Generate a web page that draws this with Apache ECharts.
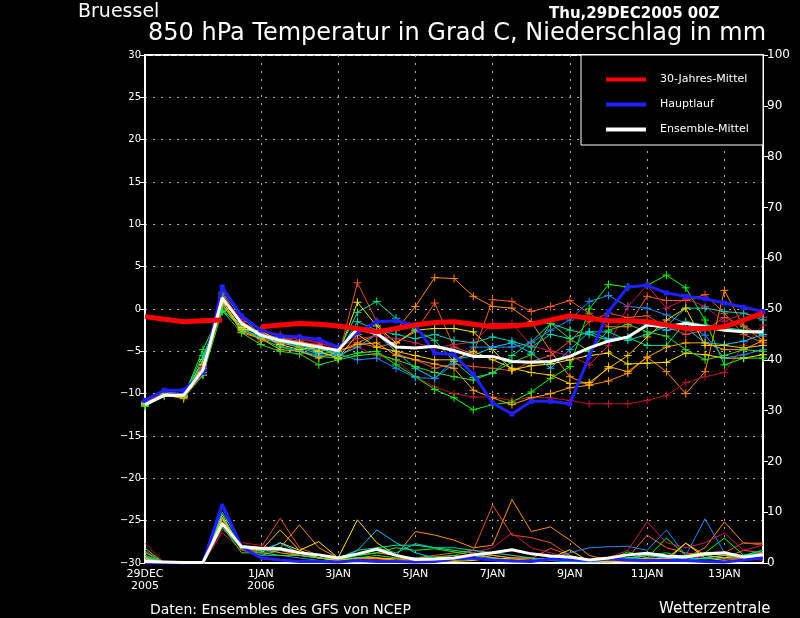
<!DOCTYPE html>
<html>
<head>
<meta charset="utf-8">
<script src="https://cdn.jsdelivr.net/npm/echarts@6/dist/echarts.min.js"></script>
<style>
  html, body { margin: 0; padding: 0; background: #000; }
  #chart { width: 800px; height: 618px; }
</style>
</head>
<body>
<div id="chart"></div>
<script>
// Zeitachse: 0..384 h in 12h-Schritten ab 29DEC2005 00Z
const hours = []
for (let h = 0; h <= 384; h += 12) hours.push(h)

const tickHours = [0, 72, 120, 168, 216, 264, 312, 360]
const tickLabels = ['29DEC\n2005', '1JAN\n2006', '3JAN', '5JAN', '7JAN', '9JAN', '11JAN', '13JAN']

// 30-Jahres-Mittel (ein fehlender Wert bei +60h)
const climate = [-0.9, -1.2, -1.5, -1.4, -1.3, null, -2.1, -1.9, -1.7, -1.8, -2.0,
  -2.3, -2.7, -2.3, -1.9, -1.6, -1.5, -1.8, -2.1, -2.0, -1.8, -1.3,
  -0.8, -1.1, -1.4, -1.4, -1.5, -1.9, -2.3, -2.3, -2.1, -1.3, -0.5]

// Hauptlauf
const mainRun = [-10.8, -9.6, -9.6, -7.5, 2.6, -0.8, -2.5, -3.2, -3.3, -3.6, -4.5,
  -2.8, -1.5, -1.4, -1.9, -5.2, -5.4, -7.7, -11.1, -12.4, -10.9, -10.9,
  -11.2, -5.6, -0.3, 2.6, 2.8, 1.9, 1.5, 1.2, 0.7, 0.2, -0.3]
const mainRain = [0, 0, 0, 0, 11.6, 3.2, 1.0, 0.6, 0.3, 0.3, 0.2,
  0.5, 0.3, 0.3, 0.2, 0.3, 0.8, 1.0, 0.6, 0.4, 0.3, 0.8,
  0.6, 0.5, 0.8, 0.6, 0.5, 0.5, 0.5, 0.3, 0.2, 0.6, 1.0]

// Ensemble-Mittel
const ensMean = [-11.3, -10.2, -10.2, -7.2, 1.3, -1.7, -3.1, -3.7, -4.1, -4.5, -4.9,
  -2.3, -2.9, -4.5, -4.6, -4.4, -4.9, -5.6, -5.6, -6.2, -6.3, -6.2,
  -5.6, -4.6, -3.8, -3.3, -1.9, -2.1, -1.7, -2.1, -2.5, -2.7, -2.7]
const meanRain = [0.3, 0.2, 0.1, 0.1, 7.8, 3.2, 2.9, 2.8, 2.0, 1.6, 1.0,
  1.8, 2.7, 1.5, 0.7, 0.8, 1.0, 1.6, 2.0, 2.6, 1.8, 1.4,
  1.2, 0.6, 1.0, 1.6, 1.9, 1.4, 1.2, 1.8, 2.0, 1.2, 1.6]

// Ensemble-Member: Temperatur
const m01 = [-11.2, -10.1, -10.6, -7.0, 1.0, -2.8, -3.5, -4.0, -4.5, -5.0, -5.8,
  -4.0, -3.0, -2.5, 0.3, 3.7, 3.6, 1.5, 0.3, 0.1, -1.5, -5.0,
  -8.0, -9.0, -8.5, -7.6, -5.7, -7.4, -10.0, -7.4, 2.2, -2.1, -3.7]
const m02 = [-11.0, -10.0, -10.2, -6.5, 1.8, -1.5, -2.8, -3.5, -3.8, -4.3, -5.0,
  -4.0, -4.5, -4.0, -2.7, 0.7, -4.5, -5.3, 1.1, 0.9, -0.3, 0.3,
  1.0, -0.5, -2.1, -2.1, 1.5, 1.0, 1.0, 1.7, -0.5, -3.0, -4.0]
const m03 = [-11.4, -10.3, -10.4, -7.5, 0.3, -2.0, -3.8, -3.2, -4.0, -4.2, -5.8,
  3.1, -1.5, -5.3, -6.0, -7.0, -6.5, -6.8, -7.0, -7.3, -6.2, -5.5,
  -3.8, -1.5, -0.5, -1.0, -0.8, -2.1, -3.0, -2.5, -1.0, -2.0, -3.2]
const m04 = [-11.0, -9.9, -10.0, -6.8, 1.5, -1.2, -2.5, -3.0, -3.6, -4.0, -4.8,
  -4.5, -5.5, -6.0, -8.0, -9.2, -10.0, -10.4, -10.4, -10.8, -10.4, -10.5,
  -10.8, -11.2, -11.2, -11.2, -10.8, -10.2, -8.7, -8.0, -7.5, -4.3, -1.9]
const m05 = [-11.5, -10.2, -10.4, -4.8, 0.0, -2.3, -3.5, -4.5, -5.0, -5.6, -5.8,
  -5.2, -5.0, -6.6, -8.0, -9.5, -10.5, -11.9, -11.3, -11.0, -9.8, -8.2,
  -6.8, 0.0, 2.9, 2.6, 2.8, 4.0, 2.5, -1.3, -6.6, -5.8, -5.8]
const m06 = [-11.1, -10.0, -10.3, -6.0, 0.8, -2.2, -3.0, -4.2, -4.8, -4.5, -5.5,
  0.8, -2.0, -4.0, -2.5, -2.3, -2.3, -2.7, -4.8, -7.2, -6.7, -6.5,
  -6.0, -5.5, -5.2, -6.5, -6.4, -6.3, -5.2, -5.4, -5.8, -5.8, -5.4]
const m07 = [-11.3, -10.1, -10.2, -5.5, -0.3, -1.8, -3.3, -3.8, -4.6, -5.3, -5.0,
  -0.4, 0.9, -1.1, -2.5, -3.7, -6.2, -8.1, -7.6, -5.5, -3.9, -1.7,
  -2.5, -3.0, -3.7, -3.4, -4.3, -4.3, -1.5, -1.9, -2.2, -2.5, -3.0]
const m08 = [-11.2, -10.0, -10.1, -7.5, 0.5, -2.5, -3.2, -3.4, -4.2, -5.2, -5.5,
  -4.5, -3.0, -5.0, -7.0, -8.2, -6.0, -5.5, -4.5, -4.0, -5.2, -7.0,
  -4.8, -2.7, -3.5, -3.3, -1.8, -2.5, -2.2, -4.0, -4.2, -3.8, -3.0]
const m09 = [-10.9, -9.8, -10.0, -7.0, 2.0, -1.0, -3.0, -4.4, -4.9, -5.5, -5.3,
  -6.0, -5.8, -7.0, -8.1, -8.2, -6.5, -4.5, -4.5, -4.5, -4.0, -2.5,
  -1.3, 0.9, 1.6, 0.3, 0.1, -0.7, -1.7, -3.1, -5.8, -5.4, -4.8]
const m10 = [-11.0, -10.0, -10.1, -7.2, 1.2, -1.6, -3.0, -3.6, -3.4, -4.0, -4.5,
  -3.5, -3.2, -3.5, -4.0, -4.6, -4.2, -3.9, -1.7, -1.7, -4.3, -5.0,
  -5.5, -6.6, -4.3, 0.3, 2.8, 0.1, 1.2, 0.3, -1.5, -0.5, -1.0]
const m11 = [-11.3, -10.2, -10.5, -7.8, 0.6, -2.6, -3.5, -4.8, -5.0, -5.8, -5.0,
  -4.2, -4.0, -5.5, -6.0, -6.5, -7.0, -9.6, -10.5, -11.3, -10.5, -10.0,
  -9.3, -9.0, -6.8, -7.4, -5.7, -4.5, -4.0, -4.0, -4.8, -4.8, -3.7]
const m12 = [-11.1, -10.1, -10.3, -6.2, 1.4, -1.9, -3.1, -3.9, -4.3, -4.8, -5.2,
  -1.5, -2.5, -3.0, -3.5, -3.0, -3.7, -4.0, -3.3, -3.8, -4.5, -3.0,
  -3.5, -2.7, -2.7, -3.7, -3.0, -2.0, 0.1, 0.1, -0.3, -0.5, -1.3]
const m13 = [-11.2, -10.0, -10.4, -6.6, 0.9, -2.4, -2.6, -3.8, -4.0, -5.0, -5.8,
  -3.0, -4.5, -5.0, -5.5, -6.0, -6.0, -5.0, -6.0, -7.0, -7.5, -7.8,
  -8.8, -8.7, -7.0, -5.5, -3.3, -1.3, 0.1, -4.3, -4.3, -4.6, -4.3]
const m14 = [-11.4, -10.2, -10.3, -7.8, -0.2, -2.8, -4.2, -5.0, -5.3, -6.6, -6.0,
  -5.5, -5.3, -6.0, -6.8, -7.5, -8.0, -8.4, -7.5, -6.3, -5.4, -1.7,
  -3.5, -5.0, -2.5, -1.8, -2.7, -3.2, -4.8, -6.0, -5.5, -4.8, -5.0]

// Ensemble-Member: Niederschlag (mm / 12h)
const r01 = [1.5, 0, 0, 0, 8.5, 3.5, 2.5, 3.0, 7.5, 3.0, 1.0, 1.5, 2.0, 1.5, 6.2, 5.5, 4.5,
  3.0, 3.5, 12.5, 6.2, 7.1, 4.5, 1.5, 0.5, 0.3, 0.2, 0.5, 1.0, 3.0, 8.1, 3.9, 3.9]
const r02 = [1.0, 0, 0, 0, 9.0, 3.0, 2.0, 2.5, 1.5, 1.0, 0.5, 1.0, 0.8, 0.5, 1.0, 1.5, 2.0,
  2.5, 1.5, 1.0, 0.8, 2.9, 1.5, 0.5, 0.5, 1.0, 5.5, 3.0, 2.0, 1.5, 1.0, 2.5, 2.0]
const r03 = [2.0, 0, 0, 0, 7.5, 3.5, 3.0, 8.8, 3.0, 1.5, 0.5, 0.8, 1.0, 0.5, 0.5, 1.0, 1.5,
  2.5, 11.4, 5.5, 5.0, 4.0, 1.5, 0.3, 0.2, 0.5, 1.5, 1.0, 0.5, 1.5, 2.0, 4.0, 3.5]
const r04 = [3.9, 0, 0, 0, 6.5, 4.0, 3.5, 2.5, 2.0, 1.0, 0.5, 1.0, 0.5, 0.5, 0.3, 0.5, 0.8,
  1.0, 2.0, 1.5, 1.0, 0.5, 0.5, 0.3, 0.5, 0.8, 1.0, 0.8, 1.5, 1.0, 0.8, 1.0, 0.5]
const r05 = [2.9, 0, 0, 0, 7.0, 2.8, 1.5, 2.5, 2.0, 1.0, 0.5, 1.5, 2.0, 3.0, 2.5, 2.8, 2.2,
  1.5, 0.5, 0.3, 0.5, 1.0, 0.5, 0.3, 0.5, 2.2, 1.0, 4.9, 1.5, 2.0, 4.9, 1.5, 2.5]
const r06 = [0.5, 0, 0, 0, 9.5, 2.5, 2.0, 4.0, 2.5, 4.2, 1.0, 8.5, 4.0, 1.5, 0.5, 0.5, 0.3,
  0.5, 1.0, 0.8, 0.5, 1.0, 2.6, 0.3, 0.2, 0.5, 0.8, 0.5, 3.9, 1.0, 0.5, 0.8, 1.0]
const r07 = [1.5, 0, 0, 0, 8.0, 3.0, 2.3, 3.0, 2.0, 1.5, 1.0, 2.5, 3.0, 3.5, 3.5, 3.0, 2.5,
  2.0, 1.0, 0.5, 0.3, 0.5, 0.5, 0.3, 0.8, 1.0, 1.5, 1.0, 0.5, 1.0, 1.5, 1.5, 2.0]
const r08 = [1.0, 0, 0, 0, 10.0, 3.5, 2.5, 3.9, 2.0, 1.0, 0.5, 2.5, 6.5, 4.0, 2.0, 1.0, 0.8,
  1.5, 1.0, 0.5, 0.5, 0.5, 0.3, 0.2, 0.3, 0.8, 1.5, 1.0, 0.5, 1.0, 1.5, 1.0, 1.5]
const r09 = [0.5, 0, 0, 0, 11.0, 3.0, 1.5, 1.5, 1.0, 0.5, 0.3, 0.5, 0.5, 0.3, 0.5, 0.8, 1.0,
  0.8, 0.5, 0.5, 0.5, 1.0, 2.0, 3.0, 3.2, 3.3, 2.5, 6.5, 1.5, 8.7, 2.0, 1.0, 1.5]
const r10 = [2.5, 0, 0, 0, 6.0, 2.5, 2.0, 2.5, 2.0, 1.5, 1.0, 0.5, 0.5, 0.3, 0.5, 0.5, 1.0,
  2.0, 3.0, 5.9, 3.0, 2.0, 1.0, 0.5, 1.0, 2.5, 8.1, 4.0, 3.0, 4.0, 5.9, 2.5, 3.5]
const r11 = [1.0, 0, 0, 0, 8.0, 3.0, 2.8, 2.0, 1.5, 1.0, 0.5, 1.0, 1.0, 0.5, 0.5, 0.5, 0.5,
  1.0, 1.5, 1.0, 1.0, 0.5, 0.8, 0.3, 0.3, 0.5, 0.5, 0.8, 1.5, 2.0, 1.5, 1.0, 2.0]
const r12 = [1.2, 0, 0, 0, 9.0, 3.2, 2.5, 2.5, 2.0, 1.5, 0.8, 1.5, 3.0, 2.0, 3.8, 3.0, 3.0,
  2.5, 2.0, 1.5, 1.0, 0.5, 0.3, 0.3, 0.5, 1.0, 0.8, 0.5, 1.0, 0.8, 1.0, 1.5, 2.5]
const r13 = [0.8, 0, 0, 0, 8.8, 3.0, 2.5, 6.5, 2.5, 1.0, 0.5, 1.0, 1.0, 0.8, 0.8, 0.5, 0.5,
  0.8, 1.0, 0.5, 0.5, 0.5, 1.0, 0.5, 0.3, 0.5, 1.0, 0.8, 3.9, 1.5, 1.0, 1.0, 1.5]
const r14 = [2.2, 0, 0, 0, 7.2, 2.0, 2.0, 1.5, 1.5, 1.0, 0.8, 1.0, 1.5, 1.0, 1.0, 1.2, 1.5,
  1.0, 0.8, 0.5, 0.5, 1.0, 1.0, 0.5, 0.8, 1.0, 1.5, 2.0, 1.0, 1.5, 2.0, 1.0, 1.5]

const memberTemps = [m01, m02, m03, m04, m05, m06, m07, m08, m09, m10, m11, m12, m13, m14]
const memberRain = [r01, r02, r03, r04, r05, r06, r07, r08, r09, r10, r11, r12, r13, r14]
const memberColors = ['#ff8c00', '#ff5a1e', '#e8502a', '#c0102a', '#00ff00', '#ffe600', '#00e68c',
  '#00c8ff', '#1e8cff', '#d2145a', '#ffa500', '#00d2b4', '#ffc800', '#32dc32']

const font = 'DejaVu Sans'

// Werte mit den Zeitschritten verbinden
function pairs(arr) {
  return arr.map((v, i) => [hours[i], v])
}

// Kreuz als Markierung
const cross = 'path://M0,5L10,5M5,0L5,10'

const series = []

// Niederschlag der Member (rechte Achse)
memberRain.forEach((arr, k) => {
  series.push({
    name: 'RR ' + (k + 1),
    type: 'line',
    yAxisIndex: 1,
    data: pairs(arr),
    symbol: 'none',
    lineStyle: { color: memberColors[k], width: 1 },
    z: 2,
  })
})

// Temperatur der Member
memberTemps.forEach((arr, k) => {
  series.push({
    name: 'T ' + (k + 1),
    type: 'line',
    data: pairs(arr),
    symbol: cross,
    symbolSize: 8,
    itemStyle: { color: memberColors[k], borderColor: memberColors[k], borderWidth: 1 },
    lineStyle: { color: memberColors[k], width: 1 },
    z: 3,
  })
})

series.push({
  name: 'Hauptlauf RR',
  type: 'line',
  yAxisIndex: 1,
  data: pairs(mainRain),
  symbol: 'none',
  lineStyle: { color: '#2020ff', width: 3 },
  z: 4,
})
series.push({
  name: 'Ensemble-Mittel RR',
  type: 'line',
  yAxisIndex: 1,
  data: pairs(meanRain),
  symbol: 'none',
  lineStyle: { color: '#ffffff', width: 3 },
  z: 5,
})
series.push({
  name: 'Hauptlauf',
  type: 'line',
  data: pairs(mainRun),
  symbol: 'rect',
  symbolSize: 5,
  showAllSymbol: true,
  itemStyle: { color: '#2020ff' },
  lineStyle: { color: '#2020ff', width: 3 },
  z: 6,
})
series.push({
  name: 'Ensemble-Mittel',
  type: 'line',
  data: pairs(ensMean),
  symbol: 'none',
  itemStyle: { color: '#ffffff' },
  lineStyle: { color: '#ffffff', width: 3 },
  z: 7,
})
series.push({
  name: '30-Jahres-Mittel',
  type: 'line',
  data: pairs(climate),
  connectNulls: false,
  symbol: 'none',
  itemStyle: { color: '#ff0000' },
  lineStyle: { color: '#ff0000', width: 5 },
  z: 8,
})

const option = {
  backgroundColor: '#000',
  animation: false,
  title: [
    { text: 'Bruessel', left: 73, top: -2, textStyle: { color: '#fff', fontFamily: font, fontSize: 19, fontWeight: 'normal' } },
    { text: 'Thu,29DEC2005 00Z', left: 544, top: 2, textStyle: { color: '#fff', fontFamily: font, fontSize: 15, fontWeight: 'bold' } },
    { text: '850 hPa Temperatur in Grad C, Niederschlag in mm', left: 143, top: 17, textStyle: { color: '#fff', fontFamily: font, fontSize: 24, fontWeight: 'normal' } },
    { text: 'Daten: Ensembles des GFS von NCEP', left: 145, top: 598, textStyle: { color: '#fff', fontFamily: font, fontSize: 14, fontWeight: 'normal' } },
    { text: 'Wetterzentrale', left: 654, top: 597, textStyle: { color: '#fff', fontFamily: font, fontSize: 15, fontWeight: 'normal' } },
  ],
  graphic: [{
    type: 'rect',
    shape: { x: 581, y: 55, width: 182, height: 90 },
    style: { fill: '#000', stroke: '#fff', lineWidth: 1 },
    z: 20,
  }],
  legend: {
    data: ['30-Jahres-Mittel', 'Hauptlauf', 'Ensemble-Mittel'],
    orient: 'vertical',
    left: 601,
    top: 69,
    icon: 'rect',
    itemWidth: 40,
    itemHeight: 4,
    itemGap: 14,
    selectedMode: false,
    z: 30,
    textStyle: { color: '#fff', fontFamily: font, fontSize: 11, padding: [0, 0, 0, 9] },
  },
  grid: {
    left: 145, right: 37, top: 55, bottom: 55,
    show: true, borderColor: '#fff', borderWidth: 2,
  },
  xAxis: {
    type: 'value',
    min: 0,
    max: 384,
    axisLine: { show: true, onZero: false, lineStyle: { color: '#fff', width: 2 } },
    axisTick: { show: false, customValues: tickHours },
    axisLabel: {
      customValues: tickHours,
      color: '#fff', fontFamily: font, fontSize: 11, lineHeight: 12, margin: 5,
      formatter: v => tickLabels[tickHours.indexOf(v)] || '',
    },
    splitLine: { show: true, lineStyle: { color: '#aaa', type: [2, 6], width: 1 } },
  },
  yAxis: [{
    type: 'value',
    min: -30,
    max: 30,
    interval: 5,
    axisLine: { show: true, lineStyle: { color: '#fff', width: 2 } },
    axisTick: { show: true, inside: false, length: 5, lineStyle: { color: '#fff' } },
    axisLabel: {
      color: '#fff', fontFamily: font, fontSize: 10, margin: 4,
      formatter: v => (v < 0 ? '\u2212' + Math.abs(v) : String(v)),
    },
    splitLine: { show: true, lineStyle: { color: '#aaa', type: [2, 6], width: 1 } },
  }, {
    type: 'value',
    position: 'right',
    min: 0,
    max: 100,
    interval: 10,
    axisLine: { show: true, lineStyle: { color: '#fff', width: 2 } },
    axisTick: { show: true, inside: false, length: 5, lineStyle: { color: '#fff' } },
    axisLabel: { color: '#fff', fontFamily: font, fontSize: 12, margin: 4 },
    splitLine: { show: false },
  }],
  series: series,
}

const chart = echarts.init(document.getElementById('chart'), null, { renderer: 'canvas' })
chart.setOption(option)
</script>
</body>
</html>
